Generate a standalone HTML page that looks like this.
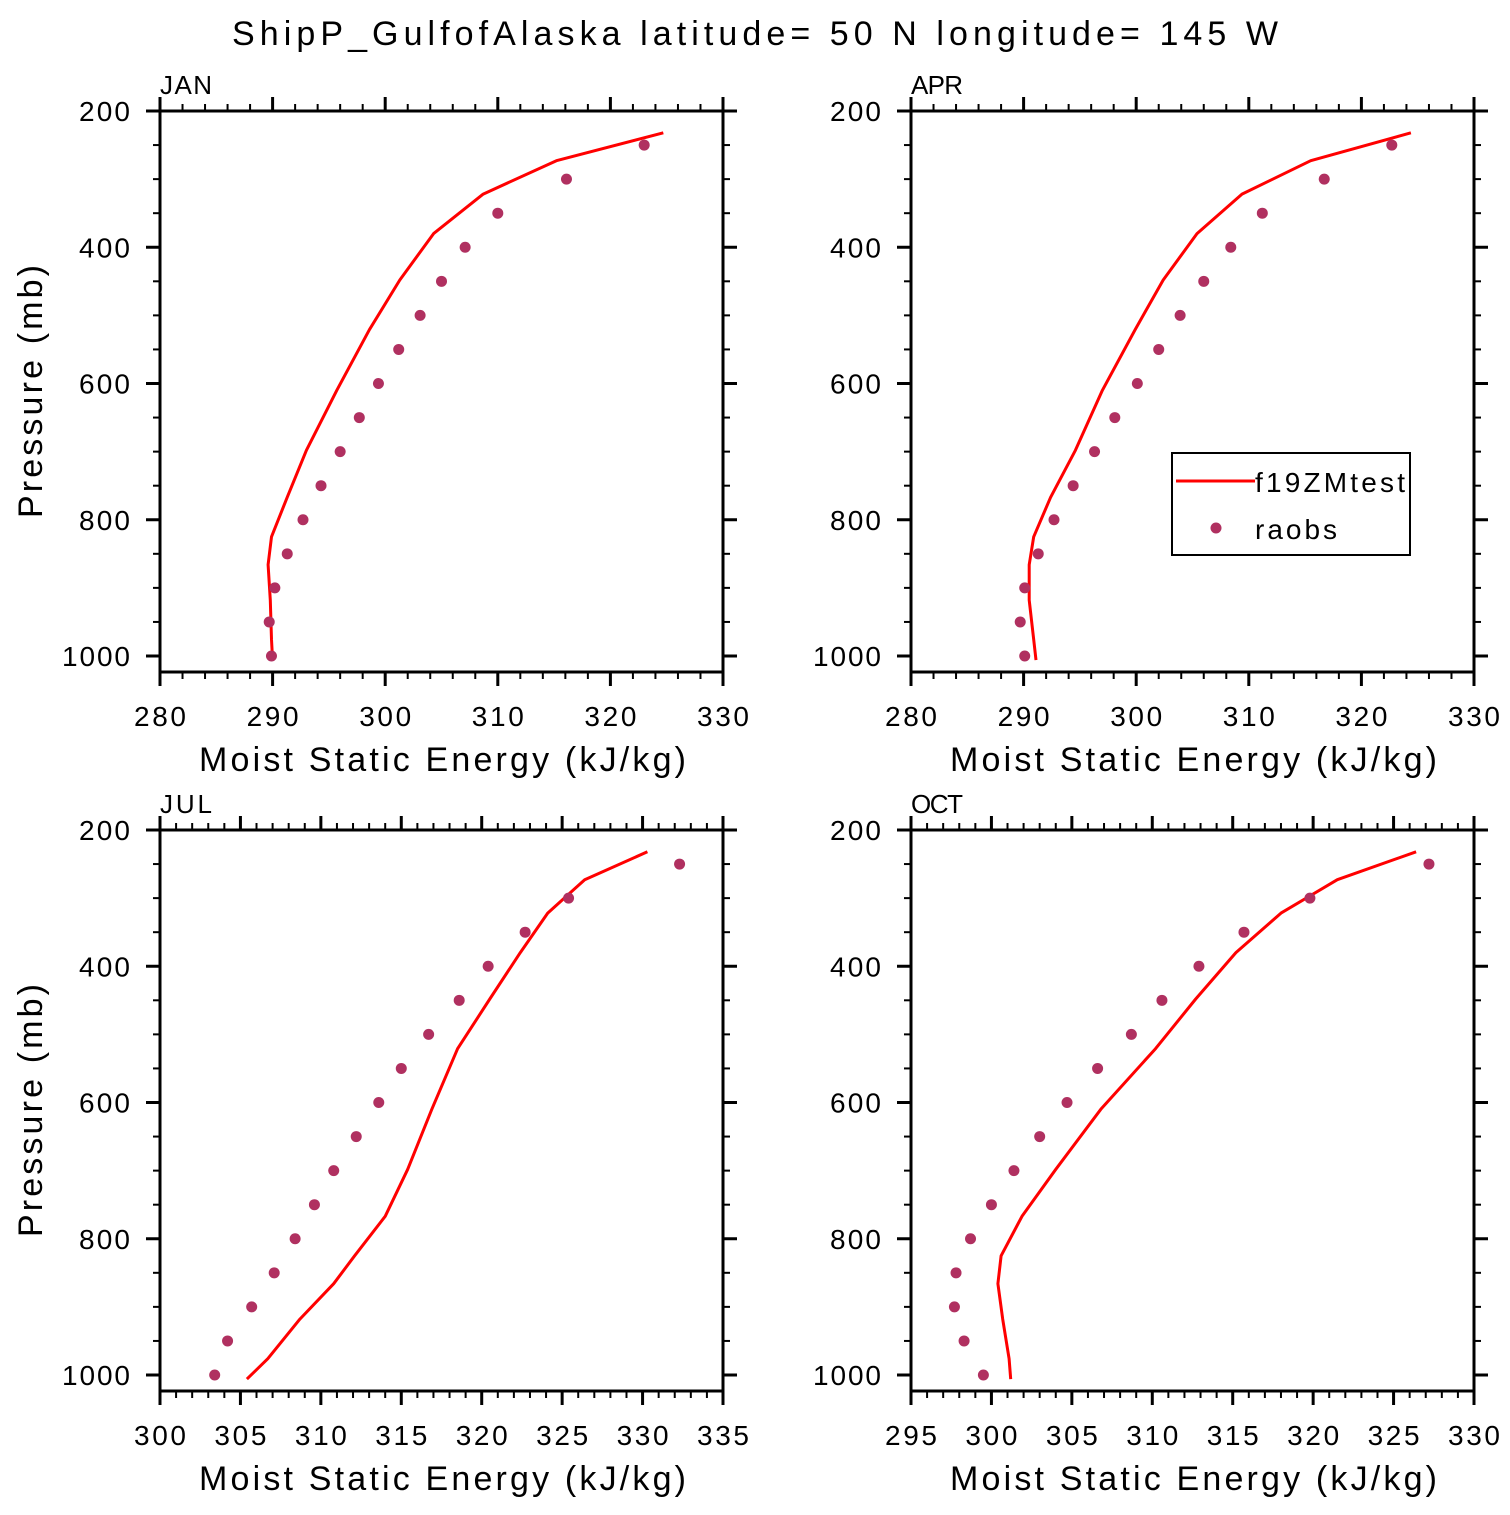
<!DOCTYPE html>
<html><head><meta charset="utf-8"><style>
html,body{margin:0;padding:0;background:#fff;}
svg text{font-family:"Liberation Sans",sans-serif;fill:#000;}
</style></head><body>
<svg id="fig" width="1510" height="1510" viewBox="0 0 1510 1510" xmlns="http://www.w3.org/2000/svg">
<text x="232" y="45" font-size="34" textLength="1046" lengthAdjust="spacing">ShipP_GulfofAlaska  latitude= 50 N longitude= 145 W</text>
<g id="legend">
<rect x="1172" y="453" width="238" height="102" fill="#fff" stroke="#000" stroke-width="2"/>
<line x1="1176" y1="481" x2="1255" y2="481" stroke="#f00" stroke-width="3"/>
<text x="1255" y="492" font-size="28" textLength="150" lengthAdjust="spacing">f19ZMtest</text>
<circle cx="1216" cy="528" r="5.5" fill="#b03060"/>
<text x="1255" y="539" font-size="28" textLength="82" lengthAdjust="spacing">raobs</text>
</g>
</svg>
<script>
const obsP=[250,300,350,400,450,500,550,600,650,700,750,800,850,900,950,1000];
const modP=[232,273,322,380,448,521,610,698,767,825,866,918,976,1006];
const janObs=[323.0,316.1,310.0,307.1,305.0,303.1,301.2,299.4,297.7,296.0,294.3,292.7,291.3,290.2,289.7,289.9];
const janMod=[324.7,315.2,308.7,304.3,301.3,298.6,295.7,293.0,291.3,289.9,289.6,289.8,289.9,290.0];
const aprObs=[322.7,316.7,311.2,308.4,306.0,303.9,302.0,300.1,298.1,296.3,294.4,292.7,291.3,290.1,289.7,290.1];
const aprMod=[324.4,315.5,309.4,305.4,302.4,299.9,297.0,294.6,292.4,290.9,290.5,290.5,290.9,291.1];
const julObs=[332.3,325.4,322.7,320.4,318.6,316.7,315.0,313.6,312.2,310.8,309.6,308.4,307.1,305.7,304.2,303.4];
const julMod=[330.3,326.4,324.1,322.4,320.5,318.5,316.9,315.4,314.0,312.1,310.8,308.7,306.7,305.4];
const octObs=[327.2,319.8,315.7,312.9,310.6,308.7,306.6,304.7,303.0,301.4,300.0,298.7,297.8,297.7,298.3,299.5];
const octMod=[326.4,321.5,318.0,315.2,312.7,310.2,306.8,304.0,301.9,300.6,300.4,300.7,301.1,301.2];
const yTicks=[200,400,600,800,1000];
const xTicksA=[280,290,300,310,320,330];
const xTicksJul=[300,305,310,315,320,325,330,335];
const xTicksOct=[295,300,305,310,315,320,325,330];

const NS='http://www.w3.org/2000/svg';
const svg=document.getElementById('fig');
const legend=document.getElementById('legend');
function mk(tag,attrs,parent){const e=document.createElementNS(NS,tag);for(const k in attrs)e.setAttribute(k,attrs[k]);(parent||svg).insertBefore(e,parent?null:legend);return e;}

function panel(o){
  const L=o.x0,R=o.x0+563,T=o.y0,B=o.y0+561;
  const xs=v=>L+(v-o.xmin)/(o.xmax-o.xmin)*(R-L);
  const ys=p=>T+(p-200)*0.68125;
  const g=mk('g',{});
  
  
  for(let p=200;p<=1000;p+=50){
    const maj=p%200===0,len=maj?14:7,y=ys(p);
    const t1=mk('line',{x1:L-len,y1:y,x2:L,y2:y,stroke:'#000','stroke-width':maj?3:2},g);
    
    
    const t2=mk('line',{x1:R,y1:y,x2:R+len,y2:y,stroke:'#000','stroke-width':maj?3:2},g);
    
    
  }
  for(let v=o.xmin;v<=o.xmax+1e-6;v+=o.minor){
    const maj=Math.abs((v-o.xmin)/o.major-Math.round((v-o.xmin)/o.major))<1e-6,len=maj?14:7,x=xs(v);
    const t1=mk('line',{x1:x,y1:B,x2:x,y2:B+len,stroke:'#000','stroke-width':maj?3:2},g);
    
    
    const t2=mk('line',{x1:x,y1:T-len,x2:x,y2:T,stroke:'#000','stroke-width':maj?3:2},g);
    
    
  }
  const fr=mk('rect',{x:L,y:T,width:R-L,height:B-T,fill:'none',stroke:'#000','stroke-width':3},g);
  
  
  yTicks.forEach(p=>{const s=String(p);const t=mk('text',{x:L-30,y:ys(p)+10,'text-anchor':'end','font-size':28,textLength:s.length*17,lengthAdjust:'spacing'},g);t.textContent=s;
    
    });
  o.xt.forEach(v=>{const t=mk('text',{x:xs(v),y:B+54,'text-anchor':'middle','font-size':28,textLength:52,lengthAdjust:'spacing'},g);t.textContent=v;
    
    });
  const xt=mk('text',{x:L+39,y:B+99,'font-size':34,textLength:487,lengthAdjust:'spacing'},g);xt.textContent='Moist Static Energy (kJ/kg)';
  
  
  if(o.ylab){const yt=mk('text',{x:0,y:0,'font-size':34,textLength:253,lengthAdjust:'spacing',transform:`translate(42,${T+407}) rotate(-90)`},g);yt.textContent='Pressure (mb)';
    
    }
  const mt=mk('text',{x:L,y:T-17,'font-size':26,textLength:52,lengthAdjust:'spacing'},g);mt.textContent=o.label;
  
  
  const pts=o.mod.map((v,i)=>xs(v).toFixed(1)+','+ys(modP[i]).toFixed(1)).join(' ');
  const pl=mk('polyline',{points:pts,fill:'none',stroke:'#f00','stroke-width':3,'stroke-linejoin':'round'},g);
  
  
  o.obs.forEach((v,i)=>{const c=mk('circle',{cx:xs(v),cy:ys(obsP[i]),r:5.5,fill:'#b03060'},g);
    
    });
}
panel({name:'jan',label:'JAN',x0:160,y0:111,xmin:280,xmax:330,major:10,minor:2,xt:xTicksA,obs:janObs,mod:janMod,ylab:true});
panel({name:'apr',label:'APR',x0:911,y0:111,xmin:280,xmax:330,major:10,minor:2,xt:xTicksA,obs:aprObs,mod:aprMod,ylab:false});
panel({name:'jul',label:'JUL',x0:160,y0:830,xmin:300,xmax:335,major:5,minor:1,xt:xTicksJul,obs:julObs,mod:julMod,ylab:true});
panel({name:'oct',label:'OCT',x0:911,y0:830,xmin:295,xmax:330,major:5,minor:1,xt:xTicksOct,obs:octObs,mod:octMod,ylab:false});
</script>
</body></html>
